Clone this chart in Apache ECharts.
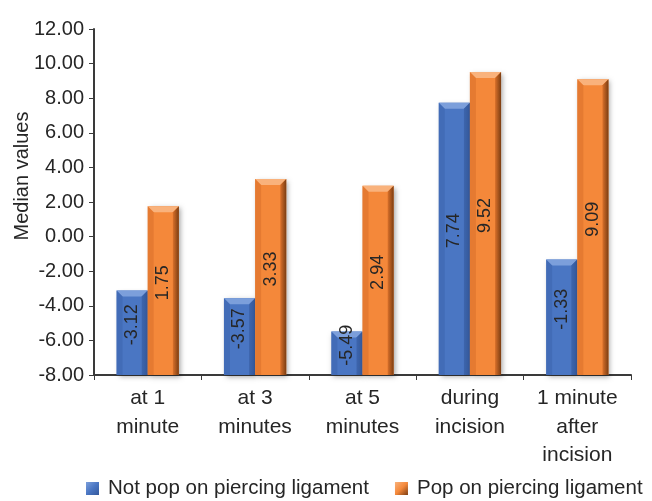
<!DOCTYPE html>
<html>
<head>
<meta charset="utf-8">
<script src="https://cdn.jsdelivr.net/npm/echarts@6/dist/echarts.min.js"></script>
<style>
  html, body { margin: 0; padding: 0; background: #fff; }
  #chart { width: 652px; height: 501px; }
</style>
</head>
<body>
<div id="chart"></div>
<script>
// Median values per time point, split by whether a pop was felt on piercing the ligament
const categories = ['at 1\nminute', 'at 3\nminutes', 'at 5\nminutes', 'during\nincision', '1 minute\nafter\nincision'];
const seriesNames = ['Not pop on piercing ligament', 'Pop on piercing ligament'];
const notPopValues = [-3.12, -3.57, -5.49, 7.74, -1.33];
const popValues = [1.75, 3.33, 2.94, 9.52, 9.09];
const yTicks = { min: -8, max: 12, step: 2 };

const FONT = 'Liberation Sans';
const TEXT = '#262626';

// Fill, bevel highlight and bevel shade for each series
const palettes = [
  { main: '#4a76c3', light: '#7c9fdb', dark: '#34599c', edge: '#3d65ad' },
  { main: '#f4883a', light: '#f9b27c', dark: '#7b3d12', edge: '#d9702a' }
];

const BAR_FRACTION = 0.29; // bar width as share of category band
const BEVEL = 6;

// Bars grow up from the bottom of the value axis, like a floor-based column chart
function makeRenderer(seriesIdx) {
  return function (params, api) {
    const cat = api.value(0);
    const val = api.value(1);
    const top = api.coord([cat, val]);
    const base = api.coord([cat, yTicks.min]);
    const band = api.size([1, 0])[0];
    const w = band * BAR_FRACTION;
    const x = seriesIdx === 0 ? top[0] - w : top[0];
    const y = top[1];
    const h = base[1] - top[1];
    const p = palettes[seriesIdx];
    const b = Math.min(BEVEL, h / 2);

    return {
      type: 'group',
      children: [
        {
          type: 'rect',
          shape: { x: x, y: y, width: w, height: h },
          style: {
            fill: p.main,
            shadowColor: 'rgba(0,0,0,0.35)',
            shadowBlur: 5,
            shadowOffsetX: 2,
            shadowOffsetY: 2
          }
        },
        { // top bevel
          type: 'polygon',
          shape: { points: [[x, y], [x + w, y], [x + w - b, y + b], [x + b, y + b]] },
          style: { fill: p.light }
        },
        { // right bevel
          type: 'polygon',
          shape: { points: [[x + w, y], [x + w, y + h], [x + w - b, y + h], [x + w - b, y + b]] },
          style: {
            fill: new echarts.graphic.LinearGradient(0, 0, 1, 0, [
              { offset: 0, color: p.edge }, { offset: 1, color: p.dark }
            ])
          }
        },
        { // left bevel
          type: 'polygon',
          shape: { points: [[x, y], [x + b, y + b], [x + b, y + h], [x, y + h]] },
          style: { fill: p.edge, opacity: 0.55 }
        },
        {
          type: 'text',
          x: x + w / 2,
          y: y + h / 2 - 8,
          rotation: Math.PI / 2,
          style: {
            text: val.toFixed(2),
            fontFamily: FONT,
            fontSize: 18,
            fill: TEXT,
            align: 'center',
            verticalAlign: 'middle'
          },
          z2: 10
        }
      ]
    };
  };
}

function toPairs(values) {
  return values.map(function (v, i) { return [i, v]; });
}

const legendIcon = function (p) {
  return new echarts.graphic.LinearGradient(0, 0, 1, 1, [
    { offset: 0, color: p.light }, { offset: 0.5, color: p.main }, { offset: 1, color: p.dark }
  ]);
};

const chart = echarts.init(document.getElementById('chart'), null, { renderer: 'canvas' });
chart.setOption({
  animation: false,
  color: [palettes[0].main, palettes[1].main],
  grid: { left: 94, right: 21, top: 29, bottom: 126, containLabel: false, outerBoundsMode: 'none' },
  legend: {
    bottom: 2,
    left: 86,
    width: 600,
    orient: 'horizontal',
    padding: 0,
    itemWidth: 13,
    itemHeight: 13,
    itemGap: 26,
    icon: 'rect',
    textStyle: { fontFamily: FONT, fontSize: 20.5, color: TEXT, padding: [0, 0, 0, 4] },
    data: [
      { name: seriesNames[0], itemStyle: { color: legendIcon(palettes[0]) } },
      { name: seriesNames[1], itemStyle: { color: legendIcon(palettes[1]) } }
    ]
  },
  xAxis: {
    type: 'category',
    data: categories,
    axisLine: { show: true, onZero: false, lineStyle: { color: '#3a3a3a', width: 2 } },
    axisTick: { show: true, length: 5, lineStyle: { color: '#3a3a3a', width: 1 } },
    axisLabel: { fontFamily: FONT, fontSize: 21, color: TEXT, lineHeight: 28.5, margin: 9, interval: 0 },
    splitLine: { show: false }
  },
  yAxis: {
    type: 'value',
    min: yTicks.min,
    max: yTicks.max,
    interval: yTicks.step,
    name: 'Median values',
    nameLocation: 'middle',
    nameGap: 62,
    nameRotate: 90,
    nameMoveOverlap: false,
    nameTextStyle: { fontFamily: FONT, fontSize: 20, color: TEXT, padding: [0, 0, 0, 52] },
    axisLine: { show: true, lineStyle: { color: '#3a3a3a', width: 2 } },
    axisTick: { show: true, length: 5, lineStyle: { color: '#3a3a3a', width: 1 } },
    axisLabel: {
      fontFamily: FONT, fontSize: 20, color: TEXT, margin: 10,
      formatter: function (v) { return v.toFixed(2); }
    },
    splitLine: { show: false }
  },
  series: [
    {
      name: seriesNames[0],
      type: 'custom',
      renderItem: makeRenderer(0),
      encode: { x: 0, y: 1 },
      data: toPairs(notPopValues)
    },
    {
      name: seriesNames[1],
      type: 'custom',
      renderItem: makeRenderer(1),
      encode: { x: 0, y: 1 },
      data: toPairs(popValues)
    }
  ]
});
</script>
</body>
</html>
